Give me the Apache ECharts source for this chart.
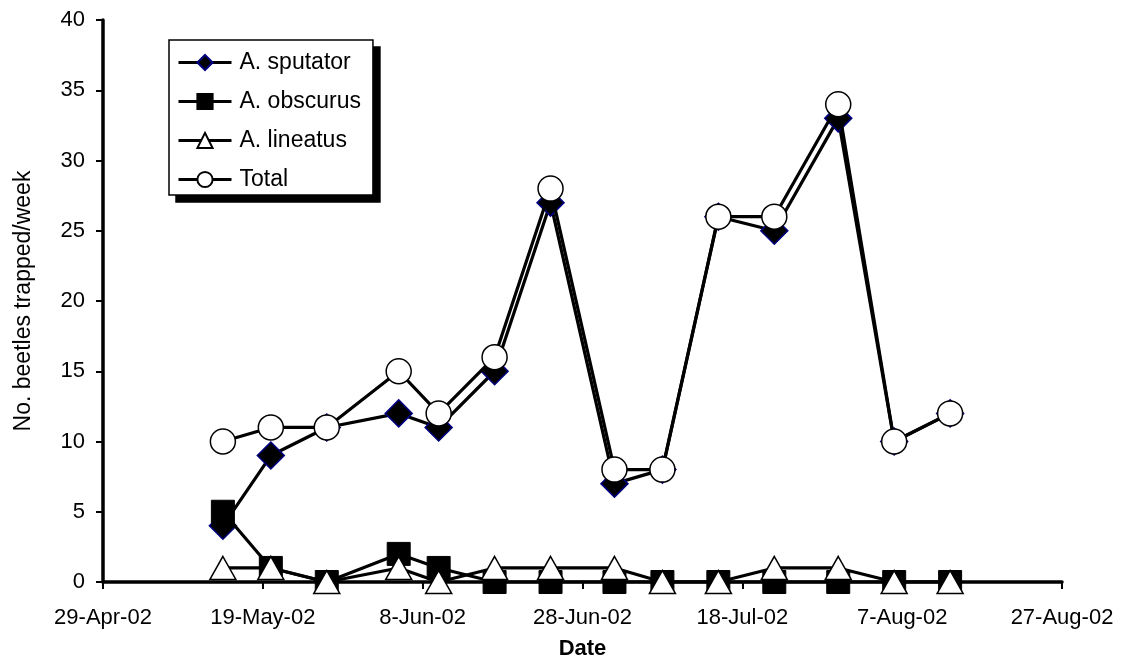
<!DOCTYPE html>
<html><head><meta charset="utf-8">
<script src="https://cdn.jsdelivr.net/npm/echarts@6/dist/echarts.min.js"></script>
<style>html,body{margin:0;padding:0;background:#fff}#c{width:1125px;height:661px}</style>
</head><body><div id="c"></div>
<script>
// ---- data ----
const startDate = '2002-04-29';
const dates = ['2002-05-14','2002-05-20','2002-05-27','2002-06-05','2002-06-10','2002-06-17','2002-06-24','2002-07-02','2002-07-08','2002-07-15','2002-07-22','2002-07-30','2002-08-06','2002-08-13'];
const sputator = [4, 9, 11, 12, 11, 15, 27, 7, 8, 26, 25, 33, 10, 12];
const obscurus = [5, 1, 0, 2, 1, 0, 0, 0, 0, 0, 0, 0, 0, 0];
const lineatus = [1, 1, 0, 1, 0, 1, 1, 1, 0, 0, 1, 1, 0, 0];
const total = [10, 11, 11, 15, 12, 16, 28, 8, 8, 26, 26, 34, 10, 12];
const seriesNames = ['A. sputator', 'A. obscurus', 'A. lineatus', 'Total'];
const xTickStepDays = 20;
const xSpanDays = 120;
const monthNames = ['Jan','Feb','Mar','Apr','May','Jun','Jul','Aug','Sep','Oct','Nov','Dec'];
const yTitle = 'No. beetles trapped/week';
const xTitle = 'Date';

// ---- helpers ----
const DAY = 86400000;
const t0 = Date.parse(startDate + 'T00:00:00Z');
function dayOffset(s) { return (Date.parse(s + 'T00:00:00Z') - t0) / DAY; }
function fmtDate(d) {
  const t = new Date(t0 + d * DAY);
  return t.getUTCDate() + '-' + monthNames[t.getUTCMonth()] + '-' + String(t.getUTCFullYear()).slice(2);
}
function pts(vals) { return dates.map((d, i) => [dayOffset(d), vals[i]]); }

const FONT = "'Liberation Sans', Arial, sans-serif";
const chart = echarts.init(document.getElementById('c'), null, { renderer: 'canvas' });

const common = { type: 'line', showAllSymbol: true, animation: false, lineStyle: { color: '#000', width: 3.2 } };

chart.setOption({
  animation: false,
  backgroundColor: '#fff',
  textStyle: { fontFamily: FONT, color: '#000' },
  grid: { left: 103, right: 63, top: 20, bottom: 79, containLabel: false, outerBoundsMode: 'none' },
  legend: {
    orient: 'vertical', left: 169, top: 40,
    itemWidth: 53, itemHeight: 19, itemGap: 16,
    padding: [11, 12, 4, 8],
    backgroundColor: '#fff', borderColor: '#000', borderWidth: 1.5,
    lineStyle: { width: 3, color: '#000' },
    textStyle: { fontFamily: FONT, fontSize: 23, color: '#000', padding: [0, 0, 0, 3] },
    data: seriesNames,
    z: 10
  },
  xAxis: {
    type: 'value', min: 0, max: xSpanDays, interval: xTickStepDays,
    name: xTitle, nameLocation: 'middle', nameGap: 56,
    nameTextStyle: { fontFamily: FONT, fontSize: 22, fontWeight: 'bold', color: '#000' },
    axisLine: { show: true, onZero: false, lineStyle: { color: '#000', width: 3.5 } },
    axisTick: { show: true, inside: false, length: 7, lineStyle: { color: '#000', width: 2 } },
    axisLabel: { fontFamily: FONT, fontSize: 22, color: '#000', margin: 25, formatter: v => fmtDate(v) },
    splitLine: { show: false }
  },
  yAxis: {
    type: 'value', min: 0, max: 40, interval: 5,
    name: yTitle, nameLocation: 'middle', nameGap: 68,
    nameTextStyle: { fontFamily: FONT, fontSize: 23, color: '#000' },
    axisLine: { show: true, lineStyle: { color: '#000', width: 3.5 } },
    axisTick: { show: true, inside: false, length: 7, lineStyle: { color: '#000', width: 2 } },
    axisLabel: { fontFamily: FONT, fontSize: 22, color: '#000', margin: 18 },
    splitLine: { show: false }
  },
  series: [
    Object.assign({}, common, { name: seriesNames[0], data: pts(sputator), symbol: 'diamond', symbolSize: 27,
      itemStyle: { color: '#000', borderColor: '#000080', borderWidth: 1.5 }, z: 2 }),
    Object.assign({}, common, { name: seriesNames[1], data: pts(obscurus), symbol: 'rect', symbolSize: 23,
      itemStyle: { color: '#000', borderColor: '#000', borderWidth: 1 }, z: 3 }),
    Object.assign({}, common, { name: seriesNames[2], data: pts(lineatus), symbol: 'triangle', symbolSize: [26, 23],
      itemStyle: { color: '#fff', borderColor: '#000', borderWidth: 1.5 }, z: 4 }),
    Object.assign({}, common, { name: seriesNames[3], data: pts(total), symbol: 'circle', symbolSize: 25,
      itemStyle: { color: '#fff', borderColor: '#000', borderWidth: 1.5 }, z: 5 })
  ]
});

// drop shadow behind the legend box (decorative)
try {
  const lm = chart.getModel().getComponent('legend');
  const view = chart.getViewOfComponentModel(lm);
  const g = view.group;
  const r = g.getBoundingRect();
  chart.setOption({
    graphic: [{
      type: 'rect', z: 1, silent: true,
      shape: { x: g.x + r.x + 7, y: g.y + r.y + 7, width: r.width, height: r.height },
      style: { fill: '#000' }
    }]
  });
} catch (e) { console.log(e); }
</script>
</body></html>
